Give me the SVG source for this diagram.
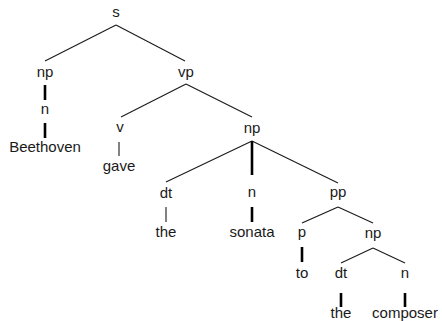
<svg xmlns="http://www.w3.org/2000/svg" width="442" height="321" viewBox="0 0 442 321">
<style>
text{font-family:"Liberation Sans",Arial,sans-serif;font-size:15px;fill:#1a1a1a;text-anchor:middle}
.e{stroke:#1a1a1a;stroke-width:1.1;fill:none}
.t{stroke:#000;stroke-width:2.6;fill:none}
</style>
<rect width="442" height="321" fill="#fff"/>
<g id="connectors">
<line class="e" x1="116" y1="25" x2="45" y2="61"/>
<line class="e" x1="116" y1="25" x2="185" y2="61"/>
<line class="t" x1="45" y1="85" x2="45" y2="100"/>
<line class="t" x1="45" y1="123" x2="45" y2="138"/>
<line class="e" x1="186" y1="84" x2="121" y2="117"/>
<line class="e" x1="186" y1="84" x2="252" y2="117"/>
<line class="e" x1="119" y1="142" x2="119" y2="156"/>
<line class="e" x1="252" y1="141" x2="166" y2="182"/>
<line class="t" x1="252" y1="141" x2="252" y2="175"/>
<line class="e" x1="252" y1="141" x2="338" y2="183"/>
<line class="e" x1="166" y1="207" x2="166" y2="222"/>
<line class="t" x1="252" y1="207" x2="252" y2="222"/>
<line class="e" x1="338" y1="207" x2="302" y2="223"/>
<line class="e" x1="338" y1="207" x2="373" y2="223"/>
<line class="t" x1="302" y1="247" x2="302" y2="262"/>
<line class="e" x1="373" y1="248" x2="341" y2="263"/>
<line class="e" x1="373" y1="248" x2="405" y2="263"/>
<line class="t" x1="341" y1="293" x2="341" y2="307"/>
<line class="t" x1="405" y1="293" x2="405" y2="307"/>
</g>
<g id="s"><text x="116" y="17">s</text></g>
<g id="np1"><text x="45" y="77">np</text></g>
<g id="vp"><text x="186" y="77">vp</text></g>
<g id="n1"><text x="45" y="114">n</text></g>
<g id="Beethoven"><text x="45" y="152">Beethoven</text></g>
<g id="v"><text x="120" y="132">v</text></g>
<g id="gave"><text x="119" y="171">gave</text></g>
<g id="np2"><text x="252" y="133">np</text></g>
<g id="dt1"><text x="166" y="198">dt</text></g>
<g id="the1"><text x="166" y="237">the</text></g>
<g id="n2"><text x="252" y="197">n</text></g>
<g id="sonata"><text x="252" y="237">sonata</text></g>
<g id="pp"><text x="338" y="197">pp</text></g>
<g id="p"><text x="302" y="237">p</text></g>
<g id="to"><text x="302" y="278">to</text></g>
<g id="np3"><text x="373" y="238">np</text></g>
<g id="dt2"><text x="341" y="278">dt</text></g>
<g id="the2"><text x="341" y="318">the</text></g>
<g id="n3"><text x="405" y="278">n</text></g>
<g id="composer"><text x="405" y="318">composer</text></g>
</svg>
